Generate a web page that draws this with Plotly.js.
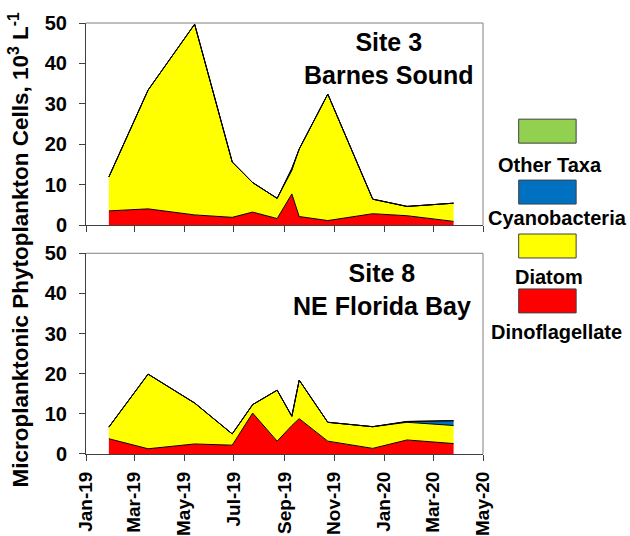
<!DOCTYPE html>
<html>
<head>
<meta charset="utf-8">
<script src="https://cdn.plot.ly/plotly-3.0.1.min.js"></script>
<style>
  html, body { margin: 0; padding: 0; background: #ffffff; }
  #chart { width: 630px; height: 536px; }
</style>
</head>
<body>
<div id="chart"></div>
<script>
// Sampling dates (shared by both sites)
const sampleDates = ['2019-01-29', '2019-03-18', '2019-05-14', '2019-06-29', '2019-07-24', '2019-08-23',
                     '2019-09-10', '2019-09-19', '2019-10-24', '2019-12-18', '2020-01-29', '2020-03-26'];

// Site 3 – Barnes Sound (10^3 cells per litre)
const site3Dino  = [3.5, 4.0, 2.5, 1.9, 3.2, 1.6, 7.7, 2.1, 1.1, 2.8, 2.3, 0.9];
const site3Diat  = [8.4, 29.4, 47.2, 13.7, 7.3, 5.0, 5.8, 16.7, 31.3, 3.6, 2.3, 4.5];
const site3Cyano = [0, 0, 0, 0, 0, 0, 0.5, 0, 0, 0, 0, 0];
const site3Other = [0, 0, 0, 0, 0, 0, 0, 0, 0, 0, 0, 0];

// Site 8 – NE Florida Bay
const site8Dino  = [3.8, 1.3, 2.5, 2.2, 10.2, 3.2, 7.1, 8.8, 3.2, 1.4, 3.5, 2.6];
const site8Diat  = [2.9, 18.6, 10.2, 2.8, 2.1, 12.7, 2.3, 9.6, 4.7, 5.4, 4.4, 4.5];
const site8Cyano = [0, 0, 0, 0, 0, 0, 0, 0, 0, 0, 0.2, 1.2];
const site8Other = [0, 0, 0, 0, 0, 0, 0, 0, 0, 0, 0, 0];

// Taxa, bottom of the stack first
const taxaNames  = ['Dinoflagellate', 'Diatom', 'Cyanobacteria', 'Other Taxa'];
const taxaColors = ['#ff0000', '#ffff00', '#0070c0', '#92d050'];

// Axis ticks
const tickDates  = ['2019-01-01', '2019-03-01', '2019-05-01', '2019-07-01', '2019-09-01',
                    '2019-11-01', '2020-01-01', '2020-03-01', '2020-05-01'];
const tickLabels = ['Jan-19', 'Mar-19', 'May-19', 'Jul-19', 'Sep-19', 'Nov-19', 'Jan-20', 'Mar-20', 'May-20'];
const yTicks = [0, 10, 20, 30, 40, 50];

const siteTitles = ['Site 3<br>Barnes Sound', 'Site 8<br>NE Florida Bay'];
const yTitle = 'Microplanktonic Phytoplankton Cells, 10<sup>3</sup> L<sup>-1</sup>';

// ---- layout geometry (pixels) ----
const W = 630, H = 536;
const PL = 86, PR = 483.3, PT = 22.7, PB = 454.3;
const topPanelBottom = 225, botPanelTop = 253.3;
const fx = x => (x - PL) / (PR - PL);
const fy = y => (PB - y) / (PB - PT);

const FONT = 'Liberation Sans, Arial, sans-serif';
const boldFont = (size) => ({ family: FONT, size: size, color: '#000000', weight: 'bold' });

function stackTraces(series, xa, ya, group) {
  return series.map((vals, i) => ({
    type: 'scatter',
    mode: 'lines',
    x: sampleDates,
    y: vals,
    name: taxaNames[i],
    stackgroup: group,
    xaxis: xa,
    yaxis: ya,
    line: { color: '#000000', width: 1 },
    fillcolor: taxaColors[i],
    showlegend: false,
    hoverinfo: 'x+y+name'
  }));
}

const traces = [
  ...stackTraces([site3Dino, site3Diat, site3Cyano, site3Other], 'x2', 'y2', 'site3'),
  ...stackTraces([site8Dino, site8Diat, site8Cyano, site8Other], 'x', 'y', 'site8')
];

const xCommon = {
  type: 'date',
  range: [tickDates[0], tickDates[tickDates.length - 1]],
  tickmode: 'array',
  tickvals: tickDates,
  ticktext: tickLabels,
  ticks: 'outside',
  ticklen: 6,
  tickcolor: '#404040',
  showline: true,
  linecolor: '#404040',
  linewidth: 1,
  showgrid: false,
  zeroline: false,
  fixedrange: true
};

const yCommon = {
  range: [0, 50],
  tickmode: 'array',
  tickvals: yTicks,
  ticks: 'outside',
  ticklen: 6,
  tickcolor: '#404040',
  showline: true,
  linecolor: '#404040',
  linewidth: 1,
  showgrid: false,
  zeroline: false,
  tickfont: boldFont(20),
  ticklabelstandoff: 8,
  fixedrange: true
};

const shapes = [];
// top and right frame edges of each panel
['', '2'].forEach(s => {
  shapes.push({ type: 'line', xref: 'x' + s + ' domain', yref: 'y' + s + ' domain',
    x0: 0, x1: 1, y0: 1, y1: 1, line: { color: '#808080', width: 1 } });
  shapes.push({ type: 'line', xref: 'x' + s + ' domain', yref: 'y' + s + ' domain',
    x0: 1, x1: 1, y0: 0, y1: 1, line: { color: '#808080', width: 1 } });
});

const annotations = [
  { text: siteTitles[0], xref: 'paper', yref: 'paper', x: fx(389), y: fy(58),
    xanchor: 'center', yanchor: 'middle', showarrow: false, font: boldFont(25) },
  { text: siteTitles[1], xref: 'paper', yref: 'paper', x: fx(382), y: fy(290),
    xanchor: 'center', yanchor: 'middle', showarrow: false, font: boldFont(25) },
  { text: yTitle, xref: 'paper', yref: 'paper', x: fx(19), y: fy(249.5), textangle: -90,
    xanchor: 'center', yanchor: 'middle', showarrow: false, font: boldFont(22.5) }
];

// Legend: colour box above each label, top entry is the top of the stack
const legendOrder = [3, 2, 1, 0];
const legendBoxTop = [119, 180, 234, 289];
const legendLabelY = [165, 218, 277, 332];
const legendLabelX = [550, 558, 549, 557];
legendOrder.forEach((ti, k) => {
  shapes.push({ type: 'rect', xref: 'paper', yref: 'paper',
    x0: fx(519), x1: fx(576.5), y0: fy(legendBoxTop[k]), y1: fy(legendBoxTop[k] + 24),
    fillcolor: taxaColors[ti], line: { color: '#404040', width: 1 } });
  annotations.push({ text: taxaNames[ti], xref: 'paper', yref: 'paper',
    x: fx(legendLabelX[k]), y: fy(legendLabelY[k]), xanchor: 'center', yanchor: 'middle',
    showarrow: false, font: boldFont(20) });
});

const layout = {
  width: W,
  height: H,
  margin: { l: PL, r: W - PR, t: PT, b: H - PB, pad: 0 },
  paper_bgcolor: '#ffffff',
  plot_bgcolor: '#ffffff',
  showlegend: false,
  font: boldFont(20),
  xaxis: Object.assign({}, xCommon, { anchor: 'y', tickangle: -90, tickfont: boldFont(19), ticklabelstandoff: 3 }),
  xaxis2: Object.assign({}, xCommon, { anchor: 'y2', matches: 'x', showticklabels: false }),
  yaxis: Object.assign({}, yCommon, { anchor: 'x', domain: [0, fy(botPanelTop)] }),
  yaxis2: Object.assign({}, yCommon, { anchor: 'x2', domain: [fy(topPanelBottom), 1] }),
  shapes: shapes,
  annotations: annotations
};

Plotly.newPlot('chart', traces, layout, { displayModeBar: false, staticPlot: true });
</script>
</body>
</html>
